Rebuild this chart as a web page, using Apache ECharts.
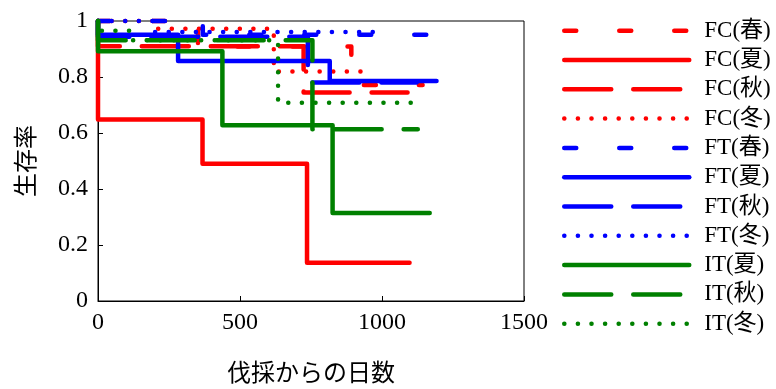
<!DOCTYPE html>
<html>
<head>
<meta charset="utf-8">
<script src="https://cdn.jsdelivr.net/npm/echarts@6/dist/echarts.min.js"></script>
<style>
  html, body { margin: 0; padding: 0; background: #fff; }
  #chart { width: 776px; height: 389px; }
</style>
</head>
<body>
<div id="chart"></div>
<script>
// Kaplan–Meier survival curves: each pair lists the day of a step and the
// survival rate from that day on; the last entry marks the end of follow-up.
const fcSpringDays = [0, 352, 892, 1143];
const fcSpringSurv = [1, 0.909, 0.771, 0.771];
const fcSummerDays = [0, 0, 368, 736, 1097];
const fcSummerSurv = [1, 0.648, 0.490, 0.137, 0.137];
const fcAutumnDays = [0, 0, 724, 1090];
const fcAutumnSurv = [1, 0.910, 0.745, 0.745];
const fcWinterDays = [0, 200, 619, 970];
const fcWinterSurv = [1, 0.972, 0.820, 0.820];

const ftSpringDays = [0, 369, 1221];
const ftSpringSurv = [1, 0.951, 0.951];
const ftSummerDays = [0, 0, 282, 816, 1192];
const ftSummerSurv = [1, 0.951, 0.857, 0.786, 0.786];
const ftAutumnDays = [0, 0, 739, 1122];
const ftAutumnSurv = [1, 0.944, 0.780, 0.780];
const ftWinterDays = [0, 200, 982];
const ftWinterSurv = [1, 0.961, 0.961];

const itSummerDays = [0, 0, 438, 826, 1168];
const itSummerSurv = [1, 0.892, 0.628, 0.314, 0.314];
const itAutumnDays = [0, 0, 755, 1126];
const itAutumnSurv = [1, 0.931, 0.613, 0.613];
const itWinterDays = [0, 0, 112, 634, 1130];
const itWinterSurv = [1, 0.965, 0.931, 0.708, 0.708];

const xTicks = [0, 500, 1000, 1500];
const yTicks = [0, 0.2, 0.4, 0.6, 0.8, 1];

const RED = '#ff0000', BLUE = '#0000ff', GREEN = '#008000';
const SHORT_DASH = [12, 43];
const LONG_DASH = [47, 22];
const DOTTED = [0.1, 13.5];
const LINE_W = 4.5;

function curve(name, days, surv, color, dash) {
  return {
    name: name,
    type: 'line',
    step: 'end',
    symbol: 'none',
    clip: false,
    animation: false,
    data: days.map((d, i) => [d, surv[i]]),
    lineStyle: { color: color, width: LINE_W, type: dash, cap: 'round', join: 'round' },
    itemStyle: { color: color }
  };
}

const series = [
  curve('FC(春)', fcSpringDays, fcSpringSurv, RED, SHORT_DASH),
  curve('FC(夏)', fcSummerDays, fcSummerSurv, RED, 'solid'),
  curve('FC(秋)', fcAutumnDays, fcAutumnSurv, RED, LONG_DASH),
  curve('FC(冬)', fcWinterDays, fcWinterSurv, RED, DOTTED),
  curve('FT(春)', ftSpringDays, ftSpringSurv, BLUE, SHORT_DASH),
  curve('FT(夏)', ftSummerDays, ftSummerSurv, BLUE, 'solid'),
  curve('FT(秋)', ftAutumnDays, ftAutumnSurv, BLUE, LONG_DASH),
  curve('FT(冬)', ftWinterDays, ftWinterSurv, BLUE, DOTTED),
  curve('IT(夏)', itSummerDays, itSummerSurv, GREEN, 'solid'),
  curve('IT(秋)', itAutumnDays, itAutumnSurv, GREEN, LONG_DASH),
  curve('IT(冬)', itWinterDays, itWinterSurv, GREEN, DOTTED)
];

const serif = '"Liberation Serif", "Times New Roman", serif';
const cjk = '"Noto Sans CJK JP", "Noto Sans", sans-serif';

const chart = echarts.init(document.getElementById('chart'), null, { renderer: 'canvas' });
chart.setOption({
  backgroundColor: '#ffffff',
  animation: false,
  grid: {
    left: 98, right: 252, top: 21, bottom: 84,
    show: true, borderColor: '#000', borderWidth: 1, backgroundColor: 'transparent'
  },
  xAxis: {
    type: 'value',
    min: xTicks[0], max: xTicks[xTicks.length - 1], interval: xTicks[1] - xTicks[0],
    name: '伐採からの日数',
    nameLocation: 'middle',
    nameGap: 59,
    nameTextStyle: { fontFamily: cjk, fontSize: 24, color: '#000' },
    axisLine: { lineStyle: { color: '#000', width: 1 } },
    axisTick: { inside: true, length: 5, lineStyle: { color: '#000' } },
    axisLabel: {
      fontFamily: serif, fontSize: 24, color: '#000', margin: 10,
      formatter: v => String(v)
    },
    splitLine: { show: false }
  },
  yAxis: {
    type: 'value',
    min: yTicks[0], max: yTicks[yTicks.length - 1], interval: yTicks[1] - yTicks[0],
    name: '生存率',
    nameLocation: 'middle',
    nameRotate: 90,
    nameGap: 61,
    nameTextStyle: { fontFamily: cjk, fontSize: 24, color: '#000' },
    axisLine: { show: true, lineStyle: { color: '#000', width: 1 } },
    axisTick: { show: true, inside: true, length: 5, lineStyle: { color: '#000' } },
    axisLabel: {
      fontFamily: serif, fontSize: 24, color: '#000', margin: 10,
      formatter: v => String(v)
    },
    splitLine: { show: false }
  },
  legend: {
    orient: 'vertical',
    left: 562,
    top: 18.7,
    padding: 0,
    itemWidth: 125,
    itemHeight: 24,
    itemGap: 5.3,
    selectedMode: false,
    // line samples only, no marker symbol on top of them
    itemStyle: { color: 'transparent', borderWidth: 0, opacity: 0 },
    lineStyle: { width: LINE_W, cap: 'round' },
    textStyle: {
      fontFamily: serif + ', ' + cjk,
      fontSize: 23,
      lineHeight: 24,
      color: '#000',
      padding: [0, 0, 0, 10]
    },
    data: series.map(s => s.name)
  },
  series: series
});
</script>
</body>
</html>
